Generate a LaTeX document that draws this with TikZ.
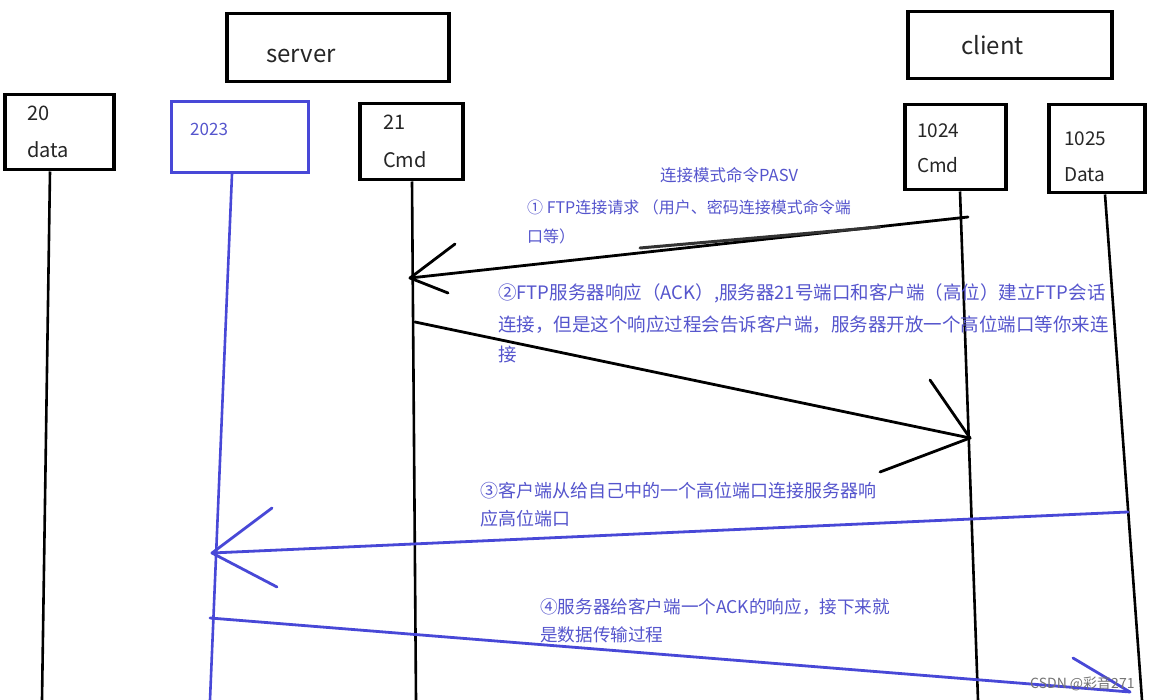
\documentclass[tikz,border=0pt]{standalone}
\usepackage{fontspec}
\setmainfont{Noto Sans CJK SC}
\definecolor{bluetxt}{RGB}{85,85,205}
\definecolor{blueln}{RGB}{72,72,215}
\begin{document}
\begin{tikzpicture}[x=1pt,y=-1pt,
  box/.style={draw=black,line width=3.5pt,anchor=north west,inner sep=0pt},
  bbox/.style={draw=blueln,line width=3pt,anchor=north west,inner sep=0pt},
  lbl/.style={anchor=base west,inner sep=0pt,text=black!85},
  note/.style={anchor=base west,inner sep=0pt,text=bluetxt},
  life/.style={line width=2.6pt,black},
  blife/.style={line width=2.6pt,blueln},
  msg/.style={line width=2.8pt,black,line cap=round,line join=round},
  bmsg/.style={line width=2.8pt,blueln,line cap=round,line join=round}]
\useasboundingbox[fill=white] (0,0) rectangle (1157,700);
% boxes
\node[box,minimum width=222pt,minimum height=68pt] (server) at (225,12) {};
\node[box,minimum width=204pt,minimum height=67pt] (client) at (906,10) {};
\node[box,minimum width=109pt,minimum height=75pt] (b20) at (3,93) {};
\node[bbox,minimum width=137pt,minimum height=71pt] (b2023) at (170,100) {};
\node[box,minimum width=103pt,minimum height=76pt] (b21) at (358,102) {};
\node[box,minimum width=101pt,minimum height=85pt] (b1024) at (903,103) {};
\node[box,minimum width=96pt,minimum height=88pt] (b1025) at (1047,103) {};
% box labels
\node[lbl,font=\fontsize{24}{24}\selectfont] (tserver) at (266,63) {server};
\node[lbl,font=\fontsize{24}{24}\selectfont] (tclient) at (961,55) {client};
\node[lbl,font=\fontsize{20}{20}\selectfont] (t20) at (27,121) {20};
\node[lbl,font=\fontsize{20}{20}\selectfont] (tdata) at (27,158) {data};
\node[note,font=\fontsize{17}{17}\selectfont] (t2023) at (190,136) {2023};
\node[lbl,font=\fontsize{20}{20}\selectfont] (t21) at (383,130) {21};
\node[lbl,font=\fontsize{20}{20}\selectfont] (tcmd) at (383,168) {Cmd};
\node[lbl,font=\fontsize{19}{19}\selectfont] (t1024) at (917,138) {1024};
\node[lbl,font=\fontsize{19}{19}\selectfont] (tcmd2) at (917,173) {Cmd};
\node[lbl,font=\fontsize{19}{19}\selectfont] (t1025) at (1064,146) {1025};
\node[lbl,font=\fontsize{19}{19}\selectfont] (tdata2) at (1064,182) {Data};
% lifeline ends
\coordinate (e20) at (42,700);
\coordinate (e2023) at (210,700);
\coordinate (e21) at (416,700);
\coordinate (e1024) at (978,700);
\coordinate (e1025) at (1142,700);
\draw[life] (b20.south -| 50,0) -- (e20);
\draw[blife] (b2023.south -| 232,0) -- (e2023);
\draw[life] (b21.south -| 412,0) -- (e21);
\draw[life] (b1024.south -| 960,0) -- (e1024);
\draw[life] (b1025.south -| 1105,0) -- (e1025);
% message points
\coordinate (a1s) at (968,217); \coordinate (a1e) at (410,278);
\coordinate (h1a) at (455,244); \coordinate (h1b) at (448,293);
\coordinate (a2s) at (415,322); \coordinate (a2e) at (970,438);
\coordinate (h2a) at (930,380); \coordinate (h2b) at (880,472);
\coordinate (a3s) at (1128,512); \coordinate (a3e) at (212,553);
\coordinate (h3a) at (272,508); \coordinate (h3b) at (277,587);
\coordinate (a4s) at (210,618); \coordinate (a4e) at (1130,692);
\coordinate (h4a) at (1073,658);
\coordinate (s1) at (880,227); \coordinate (s2) at (640,248);
% messages
\draw[msg] (a1s) -- (a1e);
\draw[msg] (h1a) -- (a1e) -- (h1b);
\draw[line width=3pt,black!80,line cap=round] (s1) -- (s2);
\draw[msg] (a2s) -- (a2e);
\draw[msg] (h2a) -- (a2e) -- (h2b);
\draw[bmsg] (a3s) -- (a3e);
\draw[bmsg] (h3a) -- (a3e) -- (h3b);
\draw[bmsg] (a4s) -- (a4e);
\draw[bmsg] (h4a) -- (a4e);
% notes
\node[note,font=\fontsize{16.5}{16.5}\selectfont] (n0) at (660,182) {连接模式命令PASV};
\node[note,font=\fontsize{16}{16}\selectfont] (n1a) at (527,214) {① FTP连接请求 （用户、密码连接模式命令端};
\node[note,font=\fontsize{16}{16}\selectfont] (n1b) at (527,243) {口等）};
\node[note,font=\fontsize{18.5}{18.5}\selectfont] (n2a) at (498,300) {②FTP服务器响应（ACK）,服务器21号端口和客户端（高位）建立FTP会话};
\node[note,font=\fontsize{18.5}{18.5}\selectfont] (n2b) at (498,332) {连接，但是这个响应过程会告诉客户端，服务器开放一个高位端口等你来连};
\node[note,font=\fontsize{18.5}{18.5}\selectfont] (n2c) at (498,362) {接};
\node[note,font=\fontsize{18}{18}\selectfont] (n3a) at (480,497) {③客户端从给自己中的一个高位端口连接服务器响};
\node[note,font=\fontsize{18}{18}\selectfont] (n3b) at (480,525) {应高位端口};
\node[note,font=\fontsize{17.6}{17.6}\selectfont] (n4a) at (540,613) {④服务器给客户端一个ACK的响应，接下来就};
\node[note,font=\fontsize{17.6}{17.6}\selectfont] (n4b) at (540,641) {是数据传输过程};
\node[anchor=base west,inner sep=0pt,text=black!55,font=\fontsize{14}{14}\selectfont] (wm) at (1030,688) {CSDN @彩音271};
\end{tikzpicture}
\end{document}
